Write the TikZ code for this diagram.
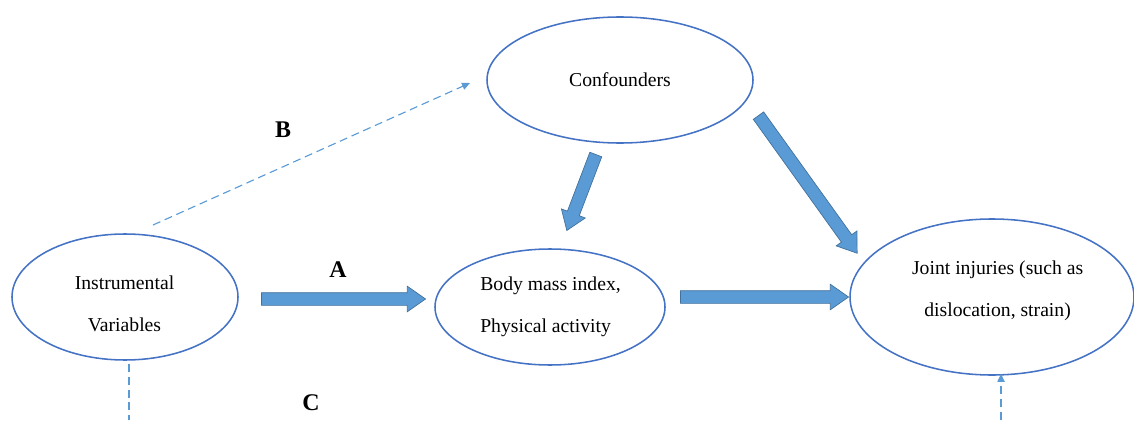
\documentclass[tikz,border=0pt]{standalone}
\usepackage{fontspec}
\setmainfont{Liberation Serif}
\usepackage{tikz}
\usetikzlibrary{shapes.geometric,shapes.arrows,arrows.meta,calc}
\definecolor{ringblue}{RGB}{68,114,196}
\definecolor{fillblue}{RGB}{91,155,213}
\definecolor{edgeblue}{RGB}{65,113,156}

\tikzset{
  oval/.style={draw=ringblue, line width=1.1pt, ellipse},
  txt/.style={font=\fontsize{14}{30}\selectfont},
  fat/.style={single arrow, draw=edgeblue, fill=fillblue, line width=.5pt,
    inner xsep=0pt, inner ysep=.15cm, single arrow head extend=.16cm,
    single arrow tip angle=70, single arrow head indent=0pt, transform shape},
  thin dash/.style={draw=fillblue, line width=.8pt, dash pattern=on .2cm off .12cm},
  letter/.style={font=\fontsize{17}{17}\selectfont\bfseries}
}

% block arrow between two named points
\newcommand{\fatarrow}[3]{%
  \path let \p1=(#2), \p2=(#3), \n1={atan2(\y2-\y1,\x2-\x1)},
    \n2={veclen(\x2-\x1,\y2-\y1)} in
    node[fat, rotate=\n1, minimum height=\n2] (#1) at ($($(#2)!.5!(#3)$)!.1cm!(#2)$) {};}

\begin{document}
\begin{tikzpicture}
\useasboundingbox (0,0) rectangle (28.35,10.5);

\node[oval, minimum width=5.65cm, minimum height=3.15cm] (iv) at (3.125,3.075) {};
\node[oval, minimum width=6.65cm, minimum height=3.15cm, txt] (conf) at (15.5,8.5) {Confounders};
\node[oval, minimum width=5.75cm, minimum height=2.9cm] (bmi) at (13.75,2.825) {};
\node[oval, minimum width=7.1cm, minimum height=3.9cm] (joint) at (24.8,3.075) {};

\node[txt, align=center] (ivtext) at (3.1125,2.9) {Instrumental\\Variables};
\node[txt, align=left, anchor=west, inner xsep=0pt] (bmitext) at (12.0,2.84) {Body mass index,\\Physical activity};
\node[txt, align=center] (jointtext) at (24.94,3.225) {Joint injuries (such as\\dislocation, strain)};

% ends of the block arrows
\coordinate (a1) at (6.525,3.025);
\coordinate (a2) at (10.625,3.025);
\coordinate (b1) at (17.0,3.075);
\coordinate (b2) at (21.2,3.075);
\coordinate (c1) at (14.9,6.65);
\coordinate (c2) at (14.175,4.75);
\coordinate (d1) at (18.95,7.625);
\coordinate (d2) at (21.425,4.175);

\fatarrow{ivbmi}{a1}{a2}
\fatarrow{bmijoint}{b1}{b2}
\fatarrow{confbmi}{c1}{c2}
\fatarrow{confjoint}{d1}{d2}

% dashed paths
\coordinate (p1) at (3.825,4.875);
\coordinate (p2) at (11.75,8.425);
\coordinate (q1) at (3.225,0);
\coordinate (r1) at (25.025,0);
\draw[thin dash, -{Triangle[length=.2cm, width=.18cm]}] (p1) -- (p2);
\draw[thin dash] (iv.south -| q1) ++(0,-.08) -- (q1);
\draw[thin dash, -{Triangle[length=.2cm, width=.18cm]}] (r1) -- ($(joint.south -| r1)+(0,.05)$);

\node[letter] (lb) at (7.075,7.25) {B};
\node[letter] (la) at (8.45,3.75) {A};
\node[letter] (lc) at (7.775,0.425) {C};
\end{tikzpicture}
\end{document}
